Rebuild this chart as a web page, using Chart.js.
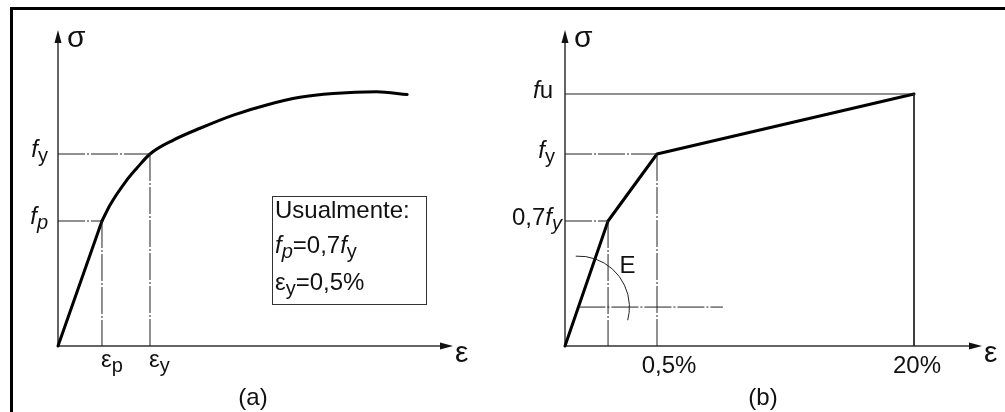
<!DOCTYPE html>
<html lang="pt">
<head>
<meta charset="utf-8">
<title>Diagrama tensão-deformação do aço</title>
<script src="https://cdn.jsdelivr.net/npm/chart.js@4.4.1/dist/chart.umd.min.js"></script>
<style>
  html, body { margin: 0; padding: 0; background: #fff; }
  #wrap { position: relative; width: 1005px; height: 412px; overflow: hidden; background: #fff; }
  #wrap canvas { position: absolute; top: 0; }
  #frame { position: absolute; left: 10px; top: 7px; right: 0; bottom: 0;
           border-top: 3px solid #000; border-left: 3px solid #000; }
</style>
</head>
<body>
<div id="wrap">
  <canvas id="chartA" width="500" height="412" style="left:0"></canvas>
  <canvas id="chartB" width="505" height="412" style="left:500px"></canvas>
  <div id="frame"></div>
</div>
<script>
// (a) diagrama real: trecho elástico + encruamento (σ em unidades de fy, ε em %)
const elasticStrainA = [0, 0.239];
const elasticStressA = [0, 0.7];
const hardeningStrainA = [0.239, 0.283, 0.370, 0.429, 0.5, 0.627, 0.772, 0.953, 1.134, 1.315, 1.496, 1.732, 1.898];
const hardeningStressA = [0.7, 0.772, 0.879, 0.937, 1.0, 1.073, 1.135, 1.204, 1.257, 1.297, 1.317, 1.326, 1.312];
const stressTicksA = [1, 0.7];
const stressTickTextA = ['*f*_y', '*f*_*p*'];
const strainTicksA = [0.239, 0.5];
const strainTickTextA = ['ε_p', 'ε_y'];
const noteLinesA = ['Usualmente:', '*f*_*p*=0,7*f*_y', 'ε_y=0,5%'];

// (b) diagrama idealizado (trilinear)
const bilinearStrainB = [0, 0.234, 0.5, 20];
const bilinearStressB = [0, 0.7, 1, 1.3];
const stressTicksB = [1.3, 1, 0.7];
const stressTickTextB = ['*f*u', '*f*_y', '0,7*f*_*y*'];
const strainTicksB = [0.5, 20];
const strainTickTextB = ['0,5%', '20%'];
const modulusStress = 0.218;
const modulusStrain = [0.073, 5.5];

const FONT = '"Liberation Sans", Arial, sans-serif';
const DASH_DOT = [27, 2, 2, 2];

// eixo esquemático: trechos lineares entre valores de quebra
function interp(v, from, to) {
  let i = 0;
  while (i < from.length - 2 && v > from[i + 1]) i++;
  const t = (v - from[i]) / (from[i + 1] - from[i]);
  return to[i] + t * (to[i + 1] - to[i]);
}

class PiecewiseScale extends Chart.LinearScale {
  getPixelForValue(value) {
    if (value === null || isNaN(value)) return NaN;
    const stops = Array.from(this.options.stops), fracs = Array.from(this.options.fracs);
    return this.getPixelForDecimal(interp(value, stops, fracs));
  }
  getValueForPixel(pixel) {
    const stops = Array.from(this.options.stops), fracs = Array.from(this.options.fracs);
    return interp(this.getDecimalForPixel(pixel), fracs, stops);
  }
}
PiecewiseScale.id = 'piecewise';
PiecewiseScale.defaults = {};
Chart.register(PiecewiseScale);

function pts(xs, ys) {
  return xs.map((x, i) => ({ x: x, y: ys[i] }));
}
function curve(data, extra) {
  return Object.assign({ data: data, borderColor: '#000', borderWidth: 3, pointRadius: 0,
    tension: 0, fill: false, clip: false, borderCapStyle: 'round', borderJoinStyle: 'round' }, extra || {});
}
function guide(data, dashed) {
  return { data: data, borderColor: '#222', borderWidth: 1, borderDash: dashed ? DASH_DOT : [],
    pointRadius: 0, tension: 0, fill: false, clip: false };
}

// texto com *itálico* e _subscrito
function parseRuns(markup) {
  const runs = [];
  let italic = false, sub = false;
  for (const c of markup) {
    if (c === '*') { italic = !italic; continue; }
    if (c === '_') { sub = true; continue; }
    const last = runs[runs.length - 1];
    if (last && last.italic === italic && last.sub === sub) last.text += c;
    else runs.push({ text: c, italic: italic, sub: sub });
    sub = false;
  }
  return runs;
}
function drawRich(ctx, markup, x, y, align, size) {
  size = size || 24;
  const runs = parseRuns(markup);
  const fontOf = r => (r.italic ? 'italic ' : '') + (r.sub ? Math.round(size * 0.82) : size) + 'px ' + FONT;
  let total = 0;
  runs.forEach(r => { ctx.font = fontOf(r); r.w = ctx.measureText(r.text).width; total += r.w; });
  let cx = align === 'right' ? x - total : align === 'center' ? x - total / 2 : x;
  ctx.textAlign = 'left';
  ctx.textBaseline = 'alphabetic';
  runs.forEach(r => {
    ctx.font = fontOf(r);
    ctx.fillText(r.text, cx, y + (r.sub ? size * 0.22 : 0));
    cx += r.w;
  });
}

function drawAxes(chart) {
  const ctx = chart.ctx, a = chart.chartArea;
  const x0 = chart.scales.x.getPixelForValue(0), y0 = chart.scales.y.getPixelForValue(0);
  ctx.save();
  ctx.strokeStyle = '#333';
  ctx.lineWidth = 1.5;
  ctx.beginPath();
  ctx.moveTo(x0, y0); ctx.lineTo(a.right - 8, y0);
  ctx.moveTo(x0, y0); ctx.lineTo(x0, a.top + 8);
  ctx.stroke();
  ctx.fillStyle = '#111';
  ctx.beginPath();
  ctx.moveTo(a.right, y0); ctx.lineTo(a.right - 13, y0 - 3.5); ctx.lineTo(a.right - 13, y0 + 3.5);
  ctx.closePath(); ctx.fill();
  ctx.beginPath();
  ctx.moveTo(x0, a.top); ctx.lineTo(x0 - 3.5, a.top + 13); ctx.lineTo(x0 + 3.5, a.top + 13);
  ctx.closePath(); ctx.fill();
  ctx.font = '30px ' + FONT;
  ctx.textAlign = 'left';
  ctx.textBaseline = 'alphabetic';
  ctx.fillText('σ', x0 + 9, a.top + 17);
  ctx.fillText('ε', a.right + 2, y0 + 16);
  ctx.restore();
}

const baseOptions = (padding, xScale, yScale) => ({
  responsive: false,
  animation: false,
  devicePixelRatio: 1,
  events: [],
  layout: { padding: padding },
  scales: { x: xScale, y: yScale },
  plugins: { legend: { display: false }, tooltip: { enabled: false }, title: { display: false } }
});

// ---------- (a) ----------
new Chart(document.getElementById('chartA'), {
  type: 'line',
  data: {
    datasets: [
      guide([{ x: 0, y: stressTicksA[0] }, { x: strainTicksA[1], y: stressTicksA[0] }], true),
      guide([{ x: 0, y: stressTicksA[1] }, { x: strainTicksA[0], y: stressTicksA[1] }], true),
      guide([{ x: strainTicksA[1], y: stressTicksA[0] }, { x: strainTicksA[1], y: 0 }], true),
      guide([{ x: strainTicksA[0], y: stressTicksA[1] }, { x: strainTicksA[0], y: 0 }], true),
      curve(pts(elasticStrainA, elasticStressA)),
      curve(pts(hardeningStrainA, hardeningStressA), { cubicInterpolationMode: 'monotone' })
    ]
  },
  options: baseOptions(
    { left: 58, top: 30, right: 47, bottom: 66 },
    { type: 'linear', min: 0, max: 2.147, display: false },
    { type: 'piecewise', min: 0, max: 1.65, stops: [0, 0.7, 1, 1.65], fracs: [0, 125 / 316, 192 / 316, 1], display: false }
  ),
  plugins: [{
    id: 'diagramA',
    beforeDatasetsDraw(chart) { drawAxes(chart); },
    afterDatasetsDraw(chart) {
      const ctx = chart.ctx, xs = chart.scales.x, ys = chart.scales.y;
      const x0 = xs.getPixelForValue(0), y0 = ys.getPixelForValue(0);
      ctx.save();
      ctx.fillStyle = '#111';
      stressTicksA.forEach((v, i) => drawRich(ctx, stressTickTextA[i], x0 - 10, ys.getPixelForValue(v) + 3, 'right'));
      strainTicksA.forEach((v, i) => drawRich(ctx, strainTickTextA[i], xs.getPixelForValue(v) - 1, y0 + 21, 'left'));
      // quadro de observação
      ctx.strokeStyle = '#333';
      ctx.lineWidth = 1;
      ctx.strokeRect(272.5, 196.5, 154, 108);
      const baselines = [218, 253, 290];
      noteLinesA.forEach((t, i) => drawRich(ctx, t, 275, baselines[i], 'left'));
      ctx.font = '24px ' + FONT;
      ctx.textAlign = 'center';
      ctx.fillText('(a)', 253, 405);
      ctx.restore();
    }
  }]
});

// ---------- (b) ----------
new Chart(document.getElementById('chartB'), {
  type: 'line',
  data: {
    datasets: [
      guide([{ x: 0, y: stressTicksB[0] }, { x: strainTicksB[1], y: stressTicksB[0] }], false),
      guide([{ x: strainTicksB[1], y: stressTicksB[0] }, { x: strainTicksB[1], y: 0 }], false),
      guide([{ x: 0, y: stressTicksB[1] }, { x: strainTicksB[0], y: stressTicksB[1] }], true),
      guide([{ x: strainTicksB[0], y: stressTicksB[1] }, { x: strainTicksB[0], y: 0 }], true),
      guide([{ x: 0, y: stressTicksB[2] }, { x: bilinearStrainB[1], y: stressTicksB[2] }], true),
      guide([{ x: bilinearStrainB[1], y: stressTicksB[2] }, { x: bilinearStrainB[1], y: 0 }], true),
      guide(pts(modulusStrain, [modulusStress, modulusStress]), true),
      curve(pts(bilinearStrainB, bilinearStressB))
    ]
  },
  options: baseOptions(
    { left: 65, top: 30, right: 23, bottom: 66 },
    { type: 'piecewise', min: 0, max: 25, stops: [0, 0.5, 20, 25], fracs: [0, 92 / 417, 349 / 417, 1], display: false },
    { type: 'piecewise', min: 0, max: 1.62, stops: [0, 0.7, 1, 1.3, 1.62], fracs: [0, 125 / 316, 192 / 316, 252 / 316, 1], display: false }
  ),
  plugins: [{
    id: 'diagramB',
    beforeDatasetsDraw(chart) { drawAxes(chart); },
    afterDatasetsDraw(chart) {
      const ctx = chart.ctx, xs = chart.scales.x, ys = chart.scales.y;
      const x0 = xs.getPixelForValue(0), y0 = ys.getPixelForValue(0);
      ctx.save();
      ctx.fillStyle = '#111';
      const labelGap = [12, 10, 3];
      stressTicksB.forEach((v, i) => drawRich(ctx, stressTickTextB[i], x0 - labelGap[i], ys.getPixelForValue(v) + 4, 'right'));
      const labelShift = [12, 3];
      strainTicksB.forEach((v, i) => drawRich(ctx, strainTickTextB[i], xs.getPixelForValue(v) + labelShift[i], y0 + 27, 'center'));
      // arco indicando o módulo E
      const cx = xs.getPixelForValue(modulusStrain[0]), cy = ys.getPixelForValue(modulusStress);
      ctx.strokeStyle = '#222';
      ctx.lineWidth = 1;
      ctx.beginPath();
      ctx.arc(cx, cy, 51, -93 * Math.PI / 180, 15 * Math.PI / 180);
      ctx.stroke();
      drawRich(ctx, 'E', cx + 41, cy - 34, 'left');
      ctx.font = '24px ' + FONT;
      ctx.textAlign = 'center';
      ctx.fillText('(b)', 263, 405);
      ctx.restore();
    }
  }]
});
</script>
</body>
</html>
